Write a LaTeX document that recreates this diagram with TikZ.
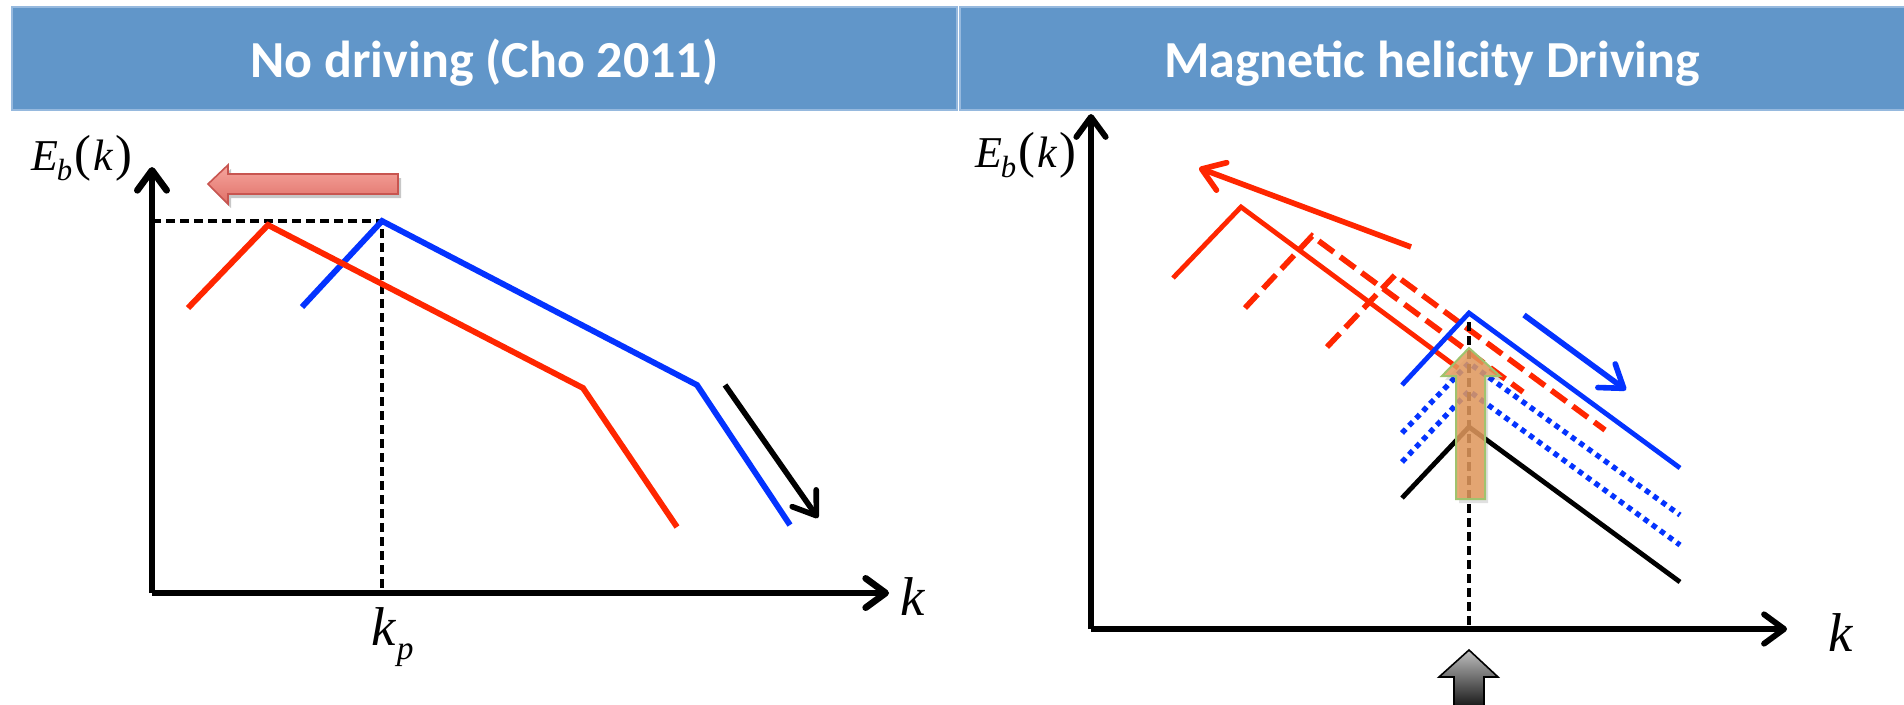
\documentclass[tikz,border=0pt]{standalone}
\usepackage{fontspec}
\setmainfont{Liberation Serif}
\newfontfamily\hdrfont{Carlito}
\usetikzlibrary{arrows.meta}
\definecolor{hdrblue}{RGB}{97,150,201}
\definecolor{hdredge}{RGB}{150,185,222}
\definecolor{cred}{RGB}{255,38,0}
\definecolor{cblue}{RGB}{4,51,255}
\definecolor{orfill}{RGB}{228,155,95}
\definecolor{orborder}{RGB}{160,195,110}
\definecolor{pinkA}{RGB}{246,166,158}
\definecolor{pinkB}{RGB}{224,112,104}
\definecolor{pinkD}{RGB}{200,85,80}
\newcommand\Ebklabel{\textit{E}\kern-1pt\raisebox{-8pt}{\fontsize{23}{23}\selectfont\textit{b}}\kern2pt{\fontsize{38}{38}\selectfont(}\kern1.5pt\textit{k}\kern1.5pt{\fontsize{38}{38}\selectfont)}}
\begin{document}
\begin{tikzpicture}[x=0.75pt,y=-0.75pt,
  hdr/.style={fill=hdrblue, draw=hdredge, line width=0.8pt},
  hdrtext/.style={text=white, inner sep=0, anchor=base, font=\hdrfont\bfseries\fontsize{39}{42}\selectfont},
  axisline/.style={line width=5pt, -{Straight Barb[length=15pt,width=22pt,round]}},
  axisthin/.style={line width=4.4pt, -{Straight Barb[length=15pt,width=22pt,round]}},
  curve/.style={line width=4.4pt, line join=miter},
  curvethin/.style={line width=3.6pt, line join=miter},
  guide/.style={line width=2.5pt, dash pattern=on 7pt off 3.5pt},
  reddash/.style={cred, line width=4.2pt, dash pattern=on 14pt off 6pt},
  bluedot/.style={cblue, line width=4pt, dash pattern=on 4pt off 3.6pt},
  motion/.style={line width=4.2pt, -{Straight Barb[length=16pt,width=22pt,round]}},
  lbl/.style={inner sep=0, anchor=base west},
  axk/.style={lbl, font=\fontsize{41}{41}\selectfont\itshape},
  ebk/.style={lbl, font=\fontsize{33}{33}\selectfont}
]
\useasboundingbox (0,0) rectangle (1904,704);
\clip (0,0) rectangle (1904,704);
\fill[white] (0,0) rectangle (1904,704);

% headers
\draw[hdr] (12,7) rectangle (957,110);
\draw[hdr] (960,7) rectangle (1910,110);
\node[hdrtext] (h1) at (484.5,77) {No driving (Cho 2011)};
\node[hdrtext] (h2) at (1432,77) {Magnetic helicity Driving};

% ================= left panel =================
\coordinate (LO) at (152,593);
\coordinate (LY) at (152,167);
\coordinate (LX) at (889,593);
\coordinate (Lpk) at (382,221);
\coordinate (Lpy) at (152,221);
\coordinate (Lpx) at (382,593);

\draw[guide] (Lpy) -- (Lpk) -- (Lpx);

\draw[curve, cblue] (302,307) -- (Lpk) -- (697,385) -- (790,525);
\draw[curve, cred] (188,308) -- (268,225) -- (583,388) -- (677,527);

\coordinate (Lma) at (725,385);
\coordinate (Lmb) at (818,518);
\draw[motion] (Lma) -- (Lmb);

\draw[axisline] (LO) -- (LY);
\draw[axisline] (LO) -- (LX);

\node[ebk] (ebl) at (31,170) {\Ebklabel};
\node[axk] (kl) at (900,615) {k};
\node[lbl, font=\fontsize{41}{41}\selectfont\itshape] (kp) at (371,645) {k\kern1pt\raisebox{-10.5pt}{\fontsize{25}{25}\selectfont p}};

% pink arrow
\fill[black, opacity=0.22] (211,188) -- (231,169) -- (231,178) -- (401,178) -- (401,198) -- (231,198) -- (231,208) -- cycle;
\draw[pinkD, line width=1.2pt, top color=pinkA, bottom color=pinkB]
  (208,184) -- (228,165) -- (228,174) -- (398,174) -- (398,194) -- (228,194) -- (228,204) -- cycle;

% ================= right panel =================
\coordinate (RO) at (1091,629);
\coordinate (RY) at (1091,114);
\coordinate (RX) at (1787,629);
\coordinate (Rpk) at (1469,313);

% red arrow
\draw[motion, cred] (1411,247) -- (1199,168);

% red curves
\draw[curvethin, cred] (1173,278) -- (1241,207) -- (1458,368);
\draw[reddash] (1245,308) -- (1312,236) -- (1523,392);
\draw[reddash] (1327,347) -- (1395,275) -- (1605,430);

% blue curves
\draw[curvethin, cblue] (1402,385) -- (Rpk) -- (1680,468);
\draw[bluedot] (1402,433) -- (1469,363) -- (1680,515);
\draw[bluedot] (1402,462) -- (1469,391) -- (1680,545);

% black curve
\draw[curvethin, black] (1402,498) -- (1469,427) -- (1680,582);

% blue arrow
\draw[motion, cblue] (1524,315) -- (1626,390);

% guide
\coordinate (Rgt) at (1469,322);
\coordinate (Rgb) at (1469,629);
\draw[guide] (Rgt) -- (Rgb);

\draw[axisthin] (RO) -- (RY);
\draw[axisthin] (RO) -- (RX);

\node[ebk] (ebr) at (975,167) {\Ebklabel};
\node[axk] (kr) at (1828,651) {k};

% orange arrow
\fill[black, opacity=0.12] (1472,352) -- (1503,380) -- (1488,380) -- (1488,503) -- (1459,503) -- (1459,380) -- (1445,380) -- cycle;
\draw[orborder, line width=1.5pt, fill=orfill, fill opacity=0.85]
  (1469,348) -- (1500,376) -- (1485,376) -- (1485,499) -- (1456,499) -- (1456,376) -- (1442,376) -- cycle;

% gray arrow
\draw[black, line width=1.2pt, top color=black!25, bottom color=black]
  (1469,650) -- (1498,677) -- (1484,677) -- (1484,715) -- (1454,715) -- (1454,677) -- (1439,677) -- cycle;
\end{tikzpicture}
\end{document}
